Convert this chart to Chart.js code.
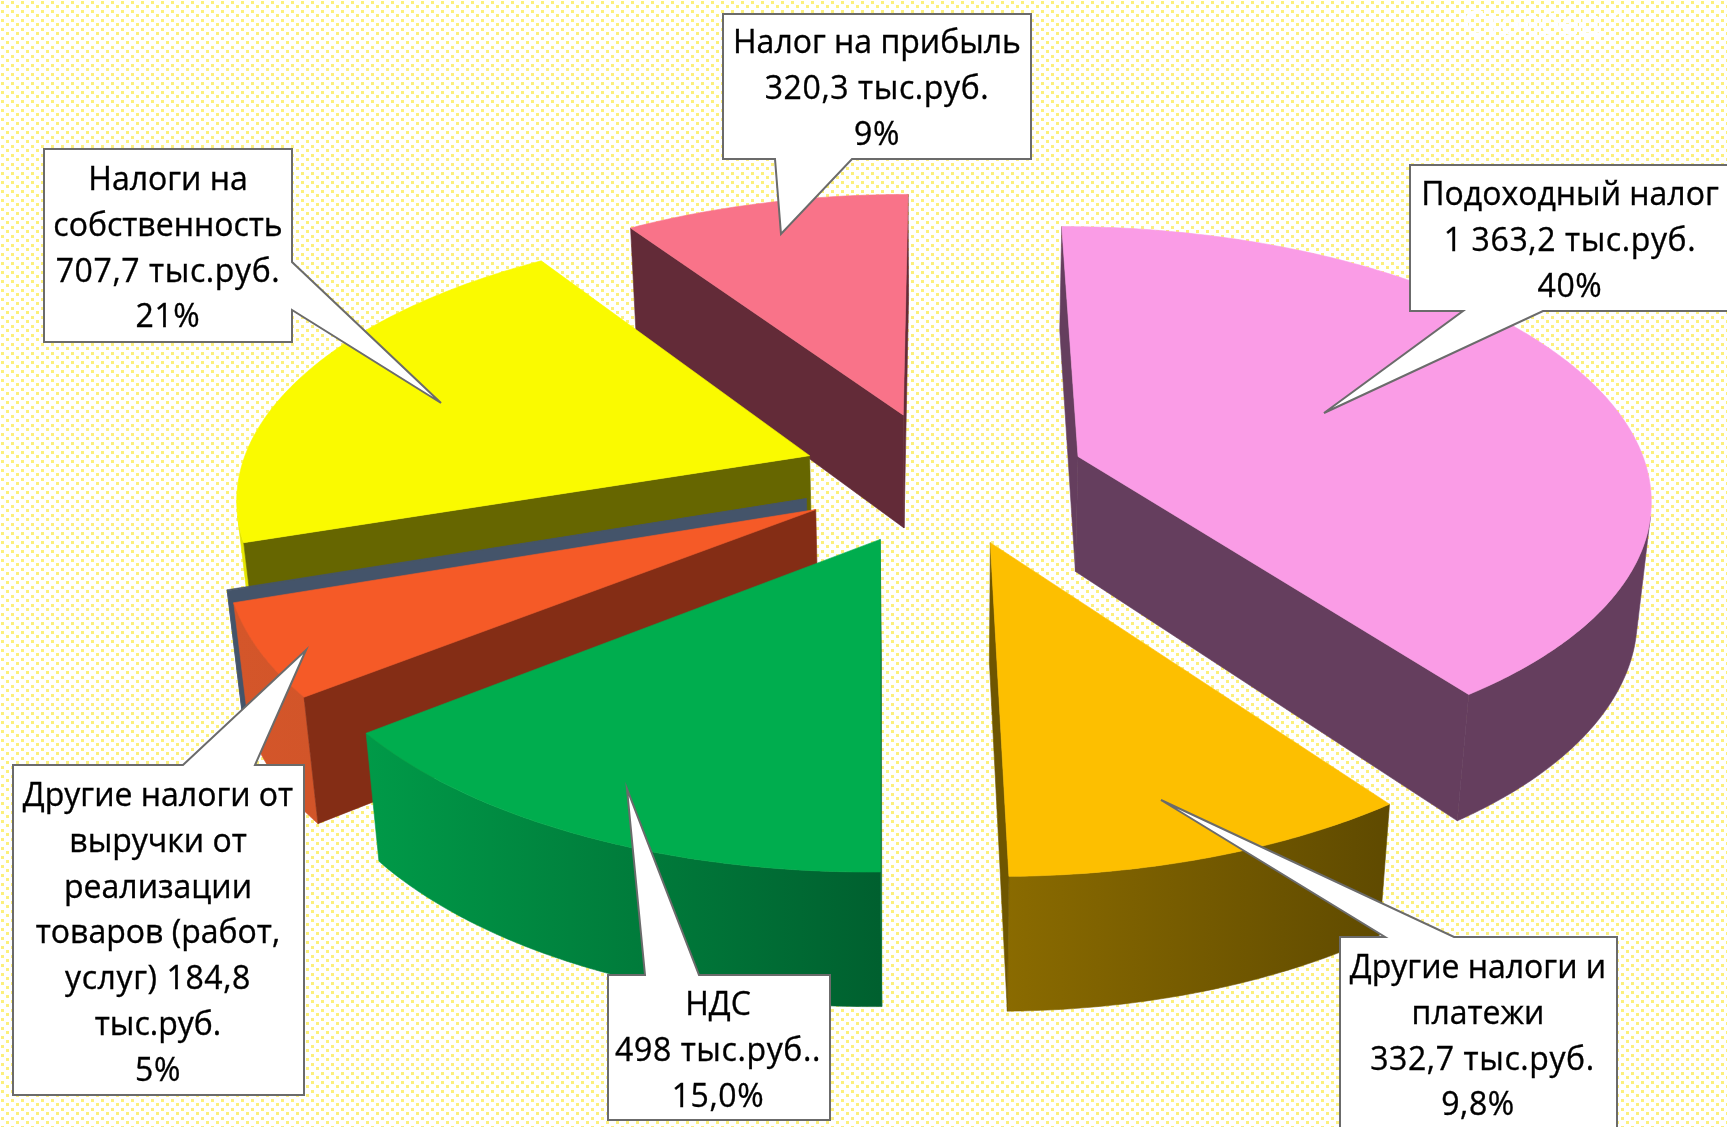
<!DOCTYPE html>
<html>
<head>
<meta charset="utf-8">
<title>Налоги</title>
<script src="https://cdn.jsdelivr.net/npm/chart.js@4"></script>
<style>
  html, body { margin: 0; padding: 0; width: 1727px; height: 1127px; overflow: hidden; }
  body {
    background-color: #fff;
    background-image: url("data:image/svg+xml,%3Csvg xmlns='http://www.w3.org/2000/svg' width='10' height='9'%3E%3Crect x='1' y='1' width='3' height='3' fill='%23fcf07c'/%3E%3Crect x='6' y='5' width='3' height='3' fill='%23fcf07c'/%3E%3C/svg%3E");
  }
  canvas { display: block; }
</style>
</head>
<body>
<canvas id="myChart" width="1727" height="1127"></canvas>
<script>
const categories = [
  'Подоходный налог',
  'Другие налоги и платежи',
  'НДС',
  'Другие налоги от выручки от реализации товаров (работ, услуг)',
  '',
  'Налоги на собственность',
  'Налог на прибыль'
];
const values = [1363.2, 332.7, 498, 184.8, 2, 707.7, 320.3];

const topColors = ['#fa9ce6', '#fdbf00', '#00ad4e', '#f55a27', '#44546a', '#fafa00', '#f97389'];
const wallColors = ['#653e5e', '#6f5600', '#006a34', '#842d15', '#44546a', '#666600', '#632b38'];
const rimLeft = ['#653e5e', '#8c6c00', '#009a48', '#d4562a', '#44546a', '#e6e600', '#632b38'];
const rimRight = ['#653e5e', '#5f4a00', '#00602f', '#c64e24', '#44546a', '#e6e600', '#632b38'];

// callout text, same order as the boxes below
const calloutLines = [
  ['Подоходный налог', '1 363,2 тыс.руб.', '40%'],
  ['Другие налоги и', 'платежи', ' 332,7 тыс.руб.', '9,8%'],
  ['НДС', '498 тыс.руб..', '15,0%'],
  ['Другие налоги от', 'выручки от', 'реализации', 'товаров (работ,', 'услуг) 184,8', 'тыс.руб.', '5%'],
  ['Налоги на', 'собственность', '707,7 тыс.руб.', '21%'],
  ['Налог на прибыль', '320,3 тыс.руб.', '9%']
];
const calloutShapes = [
  { x: 1570, y: 205, pts: [[1410,165],[1740,165],[1740,311],[1543,311],[1324,413],[1463,311],[1410,311]] },
  { x: 1478, y: 978, pts: [[1340,937],[1385,937],[1161,800],[1454,937],[1617,937],[1617,1140],[1340,1140]] },
  { x: 718, y: 1015, pts: [[608,975],[645,975],[627,789],[699,975],[830,975],[830,1120],[608,1120]] },
  { x: 158, y: 806, pts: [[13,765],[183,765],[306,650],[255,765],[304,765],[304,1095],[13,1095]] },
  { x: 168, y: 190, pts: [[44,149],[292,149],[292,262],[441,403],[292,310],[292,342],[44,342]] },
  { x: 877, y: 53, pts: [[723,14],[1031,14],[1031,159],[852,159],[781,234],[775,159],[723,159]] }
];

const perspective = 0.139;  // how fast the far side of the pie shrinks
const tilt = 0.468;
const depth = 0.203;
const bottomShrink = 0.02;

function project(arc, angle, r, z) {
  const mid = (arc.startAngle + arc.endAngle) / 2;
  const e = arc.options.offset / arc.outerRadius;
  const X = e * Math.cos(mid) + r * Math.cos(angle);
  const Y = -(e * Math.sin(mid) + r * Math.sin(angle));
  const w = 1 + perspective * Y;
  return {
    x: arc.x + arc.outerRadius * X / (w + bottomShrink * z),
    y: arc.y - arc.outerRadius * tilt * Y / w + arc.outerRadius * depth * z / Math.pow(w, 0.8)
  };
}

function fillPoly(ctx, pts, color) {
  ctx.beginPath();
  pts.forEach((p, n) => n ? ctx.lineTo(p.x, p.y) : ctx.moveTo(p.x, p.y));
  ctx.closePath();
  ctx.fillStyle = color;
  ctx.strokeStyle = color;
  ctx.lineWidth = 0.6;
  ctx.fill();
  ctx.stroke();
}

function drawSlice(ctx, arc, i) {
  const steps = Math.max(2, Math.ceil((arc.endAngle - arc.startAngle) / 0.01));
  const outline = [{ angle: arc.startAngle, r: 0 }];
  for (let s = 0; s <= steps; s++) {
    outline.push({ angle: arc.startAngle + (arc.endAngle - arc.startAngle) * s / steps, r: 1 });
  }
  const top = outline.map(o => project(arc, o.angle, o.r, 0));
  const bottom = outline.map(o => project(arc, o.angle, o.r, 1));

  const xs = top.map(p => p.x);
  const grad = ctx.createLinearGradient(Math.min(...xs), 0, Math.max(...xs), 0);
  grad.addColorStop(0, rimLeft[i]);
  grad.addColorStop(1, rimRight[i]);

  const facing = (a, b) => {
    const quad = [top[a], top[b], bottom[b], bottom[a]];
    let area = 0;
    quad.forEach((p, q) => {
      const t = quad[(q + 1) % 4];
      area += p.x * t.y - t.x * p.y;
    });
    return area < 0;
  };

  // rim: join the visible steps into one shape so the gradient has no seams
  const n = outline.length;
  let run = [];
  const flush = () => {
    if (run.length > 1) {
      fillPoly(ctx, run.map(k => top[k]).concat(run.map(k => bottom[k]).reverse()), grad);
    }
    run = [];
  };
  for (let a = 1; a < n - 1; a++) {
    if (facing(a, a + 1)) {
      if (!run.length) run.push(a);
      run.push(a + 1);
    } else {
      flush();
    }
  }
  flush();

  // the two straight cut faces
  if (facing(0, 1)) fillPoly(ctx, [top[0], top[1], bottom[1], bottom[0]], wallColors[i]);
  if (facing(n - 1, 0)) fillPoly(ctx, [top[n - 1], top[0], bottom[0], bottom[n - 1]], wallColors[i]);

  fillPoly(ctx, top, arc.options.backgroundColor);
}

const pie3d = {
  id: 'pie3d',
  beforeDatasetDraw(chart) {
    const ctx = chart.ctx;
    const arcs = chart.getDatasetMeta(0).data.map((arc, i) => ({ arc, i }));
    // far slices first
    arcs.sort((a, b) =>
      Math.sin((a.arc.startAngle + a.arc.endAngle) / 2) - Math.sin((b.arc.startAngle + b.arc.endAngle) / 2));
    ctx.save();
    arcs.forEach(o => drawSlice(ctx, o.arc, o.i));
    ctx.restore();
    return false;
  },
  afterDraw(chart) {
    const ctx = chart.ctx;
    ctx.save();
    ctx.font = '34px "Open Sans"';
    ctx.textAlign = 'center';
    ctx.fillStyle = '#ffffff';
    ctx.fillText('Столбец 1', 1546, 35);

    calloutShapes.forEach((c, i) => {
      ctx.beginPath();
      c.pts.forEach((p, n) => n ? ctx.lineTo(p[0], p[1]) : ctx.moveTo(p[0], p[1]));
      ctx.closePath();
      ctx.fillStyle = '#ffffff';
      ctx.strokeStyle = '#6b6b6b';
      ctx.lineWidth = 2;
      ctx.lineJoin = 'miter';
      ctx.fill();
      ctx.stroke();
      ctx.fillStyle = '#000000';
      ctx.strokeStyle = '#000000';
      ctx.lineWidth = 0.35;
      ctx.font = '32px "Open Sans"';
      calloutLines[i].forEach((line, l) => {
        // digits sit a little wider in the original
        ctx.letterSpacing = /\d/.test(line) ? '0.6px' : '0px';
        ctx.fillText(line, c.x, c.y + l * 45.8);
        ctx.strokeText(line, c.x, c.y + l * 45.8);
      });
    });
    ctx.restore();
  }
};

new Chart(document.getElementById('myChart'), {
  type: 'pie',
  data: {
    labels: categories,
    datasets: [{
      label: 'Столбец 1',
      data: values,
      backgroundColor: topColors,
      borderWidth: 0,
      offset: 143,
    }],
  },
  options: {
    responsive: false,
    animation: false,
    events: [],
    radius: 571,
    layout: { padding: { left: 160, bottom: 173 } },
    plugins: {
      legend: { display: false },
      tooltip: { enabled: false },
    },
  },
  plugins: [pie3d],
});
</script>
</body>
</html>
